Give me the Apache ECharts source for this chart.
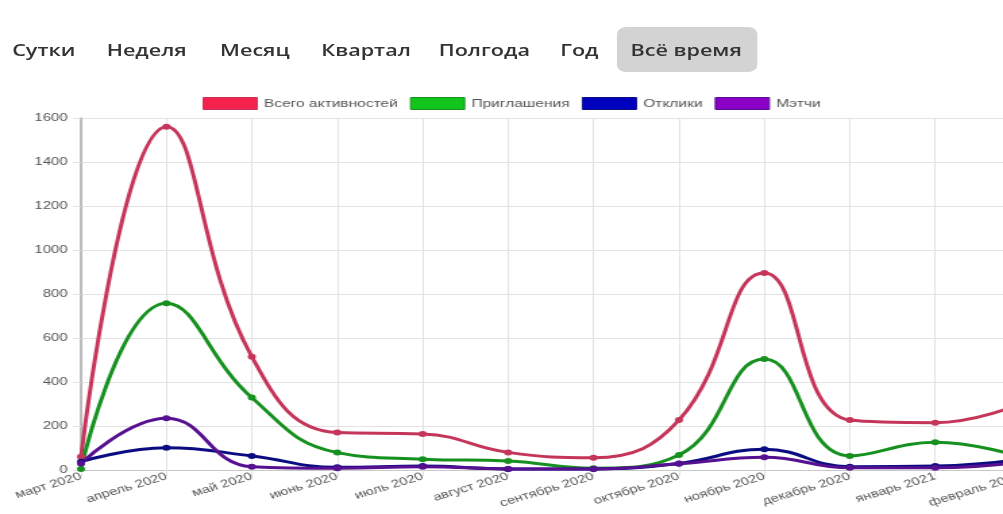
<!DOCTYPE html>
<html><head><meta charset="utf-8">
<script src="https://cdn.jsdelivr.net/npm/echarts@6/dist/echarts.min.js"></script>
<style>
html,body{margin:0;padding:0;background:#fff;overflow:hidden;width:1003px;height:514px}
#wrap{position:absolute;left:0;top:0;width:770px;height:514px;transform:scaleX(1.35);transform-origin:0 0}
#chart{position:absolute;left:0;top:0;width:770px;height:514px}
.tab{position:absolute;top:38px;font-family:"Open Sans",sans-serif;font-weight:600;font-size:16px;color:#333;line-height:24px;white-space:nowrap}
.btn{position:absolute;left:457px;top:27px;width:104px;height:45px;background:#d3d3d3;border-radius:7px}
</style></head>
<body>
<div id="wrap">
  <div class="btn"></div>
  <div class="tab" style="left:9px">Сутки</div>
  <div class="tab" style="left:79px">Неделя</div>
  <div class="tab" style="left:163px">Месяц</div>
  <div class="tab" style="left:238px">Квартал</div>
  <div class="tab" style="left:325px">Полгода</div>
  <div class="tab" style="left:415px">Год</div>
  <div class="tab" style="left:467px">Всё время</div>
  <div id="chart"></div>
</div>
<script>
const categories = ['март 2020','апрель 2020','май 2020','июнь 2020','июль 2020','август 2020','сентябрь 2020','октябрь 2020','ноябрь 2020','декабрь 2020','январь 2021','февраль 2021'];
const totalActivity = [60,1560,515,170,164,80,56,227,895,227,215,300];
const invitations = [5,758,329,79,49,41,8,68,504,64,126,60];
const responses = [38,101,64,12,18,5,5,30,94,15,18,48];
const matches = [30,235,15,8,15,5,5,28,58,10,10,35];
const yTicks = [0,200,400,600,800,1000,1200,1400,1600];

const seriesDefs = [
  {name:'Всего активностей', data: totalActivity, line:'#c5355a', fill:'#f5224e'},
  {name:'Приглашения', data: invitations, line:'#16901f', fill:'#12c41c'},
  {name:'Отклики', data: responses, line:'#0c0c82', fill:'#0000bf'},
  {name:'Мэтчи', data: matches, line:'#561090', fill:'#8a00c6'}
];

const chart = echarts.init(document.getElementById('chart'), null, {renderer:'canvas'});
chart.setOption({
  backgroundColor: 'transparent',
  animation: false,
  legend: {
    left: 145, top: 92, itemWidth: 40, itemHeight: 12, itemGap: 9, icon: 'rect',
    textStyle: {fontFamily: 'Liberation Sans, Arial', fontSize: 11.5, color: '#555'},
    data: seriesDefs.map(s => ({name: s.name, itemStyle: {color: s.fill, borderColor: s.line, borderWidth: 1}}))
  },
  grid: {left: 60, right: 14, top: 118, bottom: 44},
  xAxis: {
    type: 'category', data: categories, boundaryGap: false,
    axisLine: {show: true, lineStyle: {color: '#c8c8c8'}},
    axisTick: {show: true, length: 6, lineStyle: {color: '#e2e2e2'}},
    splitLine: {show: true, lineStyle: {color: '#e2e2e2'}},
    axisLabel: {interval: 0, rotate: 22, fontFamily: 'Liberation Sans, Arial', fontSize: 11, color: '#555', margin: 6}
  },
  yAxis: {
    type: 'value', min: yTicks[0], max: yTicks[yTicks.length-1], interval: yTicks[1]-yTicks[0],
    axisLine: {show: true, lineStyle: {color: '#a8a8a8', width: 1.5}},
    axisTick: {show: true, length: 6, lineStyle: {color: '#e2e2e2'}},
    splitLine: {show: true, lineStyle: {color: '#e2e2e2'}},
    axisLabel: {fontFamily: 'Liberation Sans, Arial', fontSize: 11, color: '#555', margin: 10, formatter: v => String(v)}
  },
  series: seriesDefs.map(s => ({
    name: s.name, type: 'line', data: s.data, smooth: 0.45,
    symbol: 'circle', symbolSize: 6, showSymbol: true,
    lineStyle: {color: s.line, width: 3},
    itemStyle: {color: s.line}
  }))
});
</script>
</body></html>
